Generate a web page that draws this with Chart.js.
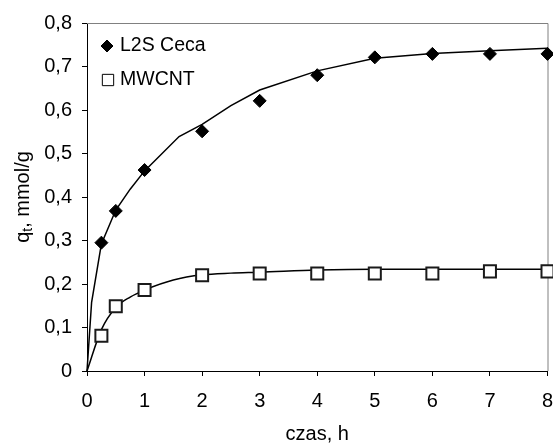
<!DOCTYPE html>
<html>
<head>
<meta charset="utf-8">
<script src="https://cdn.jsdelivr.net/npm/chart.js@4.4.1/dist/chart.umd.min.js"></script>
<style>
  html, body { margin: 0; padding: 0; background: #fff; overflow: hidden; }
  #wrap { width: 558px; height: 445px; position: relative; }
  #wrap canvas { display: block; }
</style>
</head>
<body>
<div id="wrap"><canvas id="kinetics"></canvas></div>
<script>
// measured points
const timeH = [0.25, 0.5, 1, 2, 3, 4, 5, 6, 7, 8];
const l2sCeca = [0.295, 0.368, 0.462, 0.551, 0.621, 0.680, 0.721, 0.729, 0.729, 0.729];
const mwcnt = [0.081, 0.149, 0.186, 0.220, 0.224, 0.224, 0.224, 0.224, 0.229, 0.229];

// model curves
const l2sFitX = [0, 0.08, 0.25, 0.5, 0.75, 1, 1.6, 2, 2.5, 3, 4, 5, 6, 7, 8];
const l2sFitY = [0, 0.158, 0.292, 0.370, 0.418, 0.460, 0.539, 0.567, 0.610, 0.646, 0.690, 0.719, 0.730, 0.736, 0.742];
const mwcntFitX = [0, 0.25, 0.5, 0.75, 1, 1.5, 2, 2.5, 3, 4, 5, 6, 7, 8];
const mwcntFitY = [0, 0.095, 0.146, 0.170, 0.186, 0.209, 0.221, 0.225, 0.227, 0.232, 0.234, 0.234, 0.234, 0.234];

const FONT = "'Liberation Sans', Arial, sans-serif";
const toXY = (xs, ys) => xs.map((x, i) => ({ x: x, y: ys[i] }));

// gray frame on top/right like the Excel plot area
const frame = {
  id: 'frame',
  beforeDatasetsDraw(chart) {
    const { ctx, chartArea: a } = chart;
    ctx.save();
    ctx.strokeStyle = '#808080';
    ctx.lineWidth = 1;
    ctx.beginPath();
    ctx.moveTo(a.left, a.top + 0.5);
    ctx.lineTo(a.right + 0.5, a.top + 0.5);
    ctx.lineTo(a.right + 0.5, a.bottom);
    ctx.stroke();
    ctx.restore();
  }
};

// legend inside plot + axis titles
const labels = {
  id: 'labels',
  afterDraw(chart) {
    const ctx = chart.ctx;
    const a = chart.chartArea;
    const cx = (a.left + a.right) / 2;
    const cy = (a.top + a.bottom) / 2;
    ctx.save();
    ctx.textBaseline = 'middle';
    ctx.textAlign = 'left';

    const items = [
      { ds: chart.data.datasets[0], x: 107, y: 46, r: 6 },
      { ds: chart.data.datasets[1], x: 108, y: 80, r: 8 }
    ];
    items.forEach(it => {
      ctx.fillStyle = it.ds.backgroundColor;
      ctx.strokeStyle = '#000';
      Chart.helpers.drawPoint(ctx, {
        pointStyle: it.ds.pointStyle,
        radius: it.r,
        borderWidth: 1
      }, it.x, it.y);
      ctx.fillStyle = '#000';
      ctx.font = '19.5px ' + FONT;
      ctx.fillText(it.ds.label, 120, it.y);
    });

    // x title
    ctx.font = '20px ' + FONT;
    ctx.textAlign = 'center';
    ctx.textBaseline = 'alphabetic';
    ctx.fillText('czas, h', cx, 440);

    // y title with subscript
    ctx.translate(29, cy);
    ctx.rotate(-Math.PI / 2);
    const main = '20px ' + FONT, sub = '14px ' + FONT;
    ctx.font = main;
    const wq = ctx.measureText('q').width;
    const wr = ctx.measureText(', mmol/g').width;
    ctx.font = sub;
    const wt = ctx.measureText('t').width;
    let x0 = -(wq + wt + wr) / 2;
    ctx.textAlign = 'left';
    ctx.font = main;
    ctx.fillText('q', x0, 0);
    ctx.font = sub;
    ctx.fillText('t', x0 + wq, 3);
    ctx.font = main;
    ctx.fillText(', mmol/g', x0 + wq + wt, 0);
    ctx.restore();
  }
};

new Chart(document.getElementById('kinetics'), {
  type: 'scatter',
  data: {
    datasets: [
      {
        label: 'L2S Ceca',
        data: toXY(timeH, l2sCeca),
        pointStyle: 'rectRot',
        pointRadius: 6.5,
        backgroundColor: '#000',
        borderColor: '#000',
        borderWidth: 1,
        showLine: false
      },
      {
        label: 'MWCNT',
        data: toXY(timeH, mwcnt),
        pointStyle: 'rect',
        pointRadius: 8.5,
        backgroundColor: '#fff',
        borderColor: '#1a1a1a',
        borderWidth: 2,
        showLine: false
      },
      {
        label: 'L2S fit',
        data: toXY(l2sFitX, l2sFitY),
        showLine: true,
        pointRadius: 0,
        borderColor: '#000',
        borderWidth: 1.5,
        tension: 0,
        order: 5
      },
      {
        label: 'MWCNT fit',
        data: toXY(mwcntFitX, mwcntFitY),
        showLine: true,
        pointRadius: 0,
        borderColor: '#000',
        borderWidth: 1.5,
        cubicInterpolationMode: 'monotone',
        order: 5
      }
    ]
  },
  options: {
    responsive: true,
    maintainAspectRatio: false,
    animation: false,
    clip: false,
    layout: { padding: { top: 23, right: 6, left: 0, bottom: 0 } },
    plugins: {
      legend: { display: false },
      tooltip: { enabled: false }
    },
    scales: {
      x: {
        type: 'linear',
        min: 0,
        max: 8,
        ticks: {
          stepSize: 1,
          color: '#000',
          padding: 13,
          font: { family: FONT, size: 20 }
        },
        grid: {
          drawOnChartArea: false,
          drawTicks: true,
          tickLength: 5,
          color: '#000'
        },
        border: { color: '#000', width: 1 },
        afterFit(scale) {
          scale.height = 74;
          scale.paddingLeft = 0;
          scale.paddingRight = 0;
        }
      },
      y: {
        min: 0,
        max: 0.8,
        ticks: {
          stepSize: 0.1,
          color: '#000',
          padding: 10,
          font: { family: FONT, size: 20 },
          callback: v => (Math.round(v * 10) / 10).toString().replace('.', ',')
        },
        grid: {
          drawOnChartArea: false,
          drawTicks: true,
          tickLength: 5,
          color: '#000'
        },
        border: { color: '#000', width: 1 },
        afterFit(scale) {
          scale.width = 87;
          scale.paddingTop = 0;
          scale.paddingBottom = 0;
        }
      }
    }
  },
  plugins: [frame, labels]
});
</script>
</body>
</html>
